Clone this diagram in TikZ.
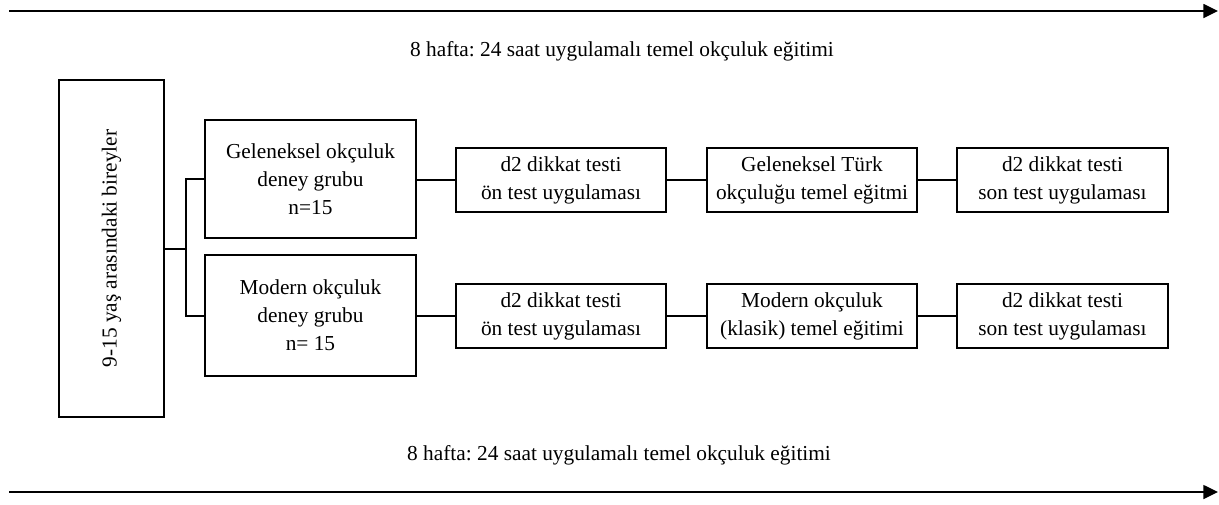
\documentclass[tikz,border=0pt]{standalone}
\usepackage{fontspec}
\setmainfont{Liberation Serif}
\frenchspacing
\usetikzlibrary{arrows.meta}
\newcommand{\pxu}{0.75pt}
\tikzset{every picture/.style={line width=0.75pt}}
\tikzset{
  box/.style={draw, line width=1.5pt, align=center, inner sep=0.75pt, font=\fontsize{16}{21}\selectfont},
  link/.style={line width=1.5pt},
  timeline/.style={line width=1.1pt, -{Triangle[length=11pt,width=10.5pt]}},
  txt/.style={inner sep=0.75pt, font=\fontsize{16}{21}\selectfont}
}

\begin{document}
\begin{tikzpicture}[x=0.75pt,y=0.75pt,yscale=-1,xscale=1]
\useasboundingbox (0,0) rectangle (1219,504);

%Time lines
\coordinate (tl) at (9,11);
\coordinate (tr) at (1218,11);
\coordinate (bl) at (9,492);
\coordinate (br) at (1218,492);
\draw [timeline] (tl) -- (tr);
\draw [timeline] (bl) -- (br);

% Text Node
\node [txt] (toplbl) at (622,51) {8 hafta: 24 saat uygulamalı temel okçuluk eğitimi};
% Text Node
\node [txt] (botlbl) at (619,455) {8 hafta: 24 saat uygulamalı temel okçuluk eğitimi};

%Shape: Rectangle
\node [box, minimum width=105*\pxu, minimum height=337*\pxu] (base) at (111.5,248.5) {};
\node [txt, rotate=90] (baselbl) at (base.center) {9-15 yaş arasındaki bireyler};

%Shape: Rectangle
\node [box, minimum width=211*\pxu, minimum height=118*\pxu] (grpA) at (310.5,179) {Geleneksel okçuluk\\deney grubu\\n=15};
%Shape: Rectangle
\node [box, minimum width=211*\pxu, minimum height=121*\pxu] (grpB) at (310.5,315.5) {Modern okçuluk\\deney grubu\\n= 15};

%Shape: Rectangle
\node [box, minimum width=210*\pxu, minimum height=64*\pxu] (preA) at (561,180) {d2 dikkat testi\\ön test uygulaması};
\node [box, minimum width=210*\pxu, minimum height=64*\pxu] (trA) at (812,180) {Geleneksel Türk\\okçuluğu temel eğitmi};
\node [box, minimum width=211*\pxu, minimum height=64*\pxu] (postA) at (1062.5,180) {d2 dikkat testi\\son test uygulaması};
%Shape: Rectangle
\node [box, minimum width=210*\pxu, minimum height=64*\pxu] (preB) at (561,316) {d2 dikkat testi\\ön test uygulaması};
\node [box, minimum width=210*\pxu, minimum height=64*\pxu] (trB) at (812,316) {Modern okçuluk\\(klasik) temel eğitimi};
\node [box, minimum width=211*\pxu, minimum height=64*\pxu] (postB) at (1062.5,316) {d2 dikkat testi\\son test uygulaması};

%Straight Lines
\draw [link] (base.east) -- ++(21,0) coordinate (fork);
\draw [link] (grpA.west) -| (fork);
\draw [link] (grpB.west) -| (fork);
\draw [link] (grpA.east |- preA.west) -- (preA.west);
\draw [link] (preA) -- (trA);
\draw [link] (trA) -- (postA);
\draw [link] (grpB.east |- preB.west) -- (preB.west);
\draw [link] (preB) -- (trB);
\draw [link] (trB) -- (postB);

\end{tikzpicture}
\end{document}
